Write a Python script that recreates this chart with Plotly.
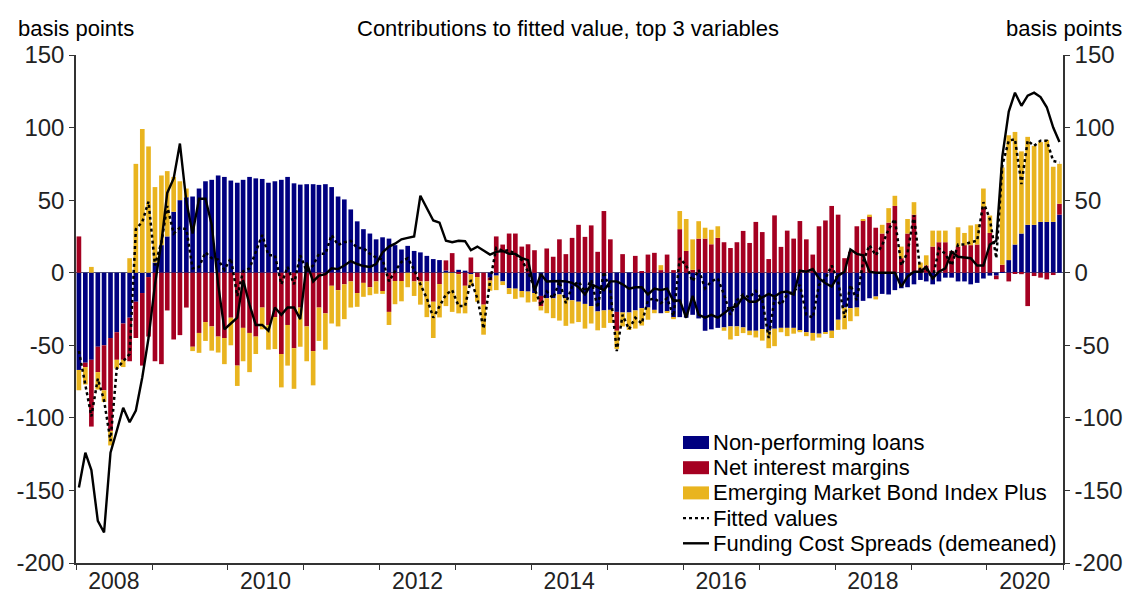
import pandas as pd
import plotly.graph_objects as go

# monthly observations, Jan 2008 - Dec 2020
start_month = "2008-01-01"
n_months = 156

npl = [
    -67, -62, -60, -51, -50, -45, -41, -35, -31, -20, -14, -3, 7, 19, 25, 42, 50, 52, 52.5, 58,
    63, 64, 67, 66, 63.5, 62, 64, 66, 65, 64.6, 62, 63, 64, 66, 61.6, 60.7, 61, 61, 60.5, 61,
    59, 52.5, 50.5, 43.6, 35.4, 30, 27, 23, 24.4, 23.5, 19, 16, 18.5, 15, 14, 11.6, 9.4, 8.7, 1.5, 0.5,
    2, 1.4, -1, 0, 0, -3.4, -2, -6, -10.7, -11, -12.6, -13, -14, -16, -17.6, -17.6, -15, -17.6, -19, -20,
    -21.5, -23, -26.7, -26, -25.6, -27, -27.4, -27.4, -26, -24.4, -24, -25.6, -27.9, -26.7, -31, -30.6, -31, -29, -31.5, -40,
    -39, -38, -37.7, -37, -37, -37.7, -40, -40, -38.8, -40, -38.6, -38, -38, -38, -40, -41, -41.5, -42, -41, -40,
    -32.4, -24, -24.4, -24, -19.4, -17.6, -16.4, -14.6, -15, -12, -10.7, -10, -8, -5, -6, -8, -6, -3.4, -3.4, -6,
    -6, -8, -7, -4, -2, -2, 0.5, 8.7, 19.4, 27, 33, 33, 35, 35, 35, 40,
]

nim = [
    25, -3, -46, -17.5, -31, -64, -19, -25, -30, -25, -50, -41, -61, -63, -26, -46, -43, -24, -51, -41.5,
    -34, -37, -44, -45, -31, -64, -38, -41.5, -44, -24, -36, -30.6, -56, -36, -52, -24, -37, -54, -24, -28,
    -9, -12, -8, -6, -14, -7, -10, -6, -12.6, -27, -5.7, -5.7, 0, -6, -6, -6, -20, -7.8, 7, 13,
    -1, -9, 10.5, -3, -22, -2, 25, 19.4, 27, 27, 18, 19.6, 15.5, -7, 16.7, 11, 23, 12.8, 24, 33,
    24.7, 32.6, 14.4, 42.5, 23, -13, 12.8, 0, 11.6, 0.7, 12.5, 13.7, 1.8, 12.5, 1.8, 30, 15, 2, 23.5, 23.5,
    19.6, 24, 21, 17, 21, 28.8, 20.5, 35, 28, 9.4, 39.5, 17.8, 29, 23.5, 35.6, 23, 12.5, 32, 36, 46,
    40, 10, 14.4, 32, 36, 39, 31, 27, 34.5, 46, 10, 27, 40, 3, 5, 18, 21, 21, 15, 18,
    19, 19, 19.4, 45, 27.4, -2.5, 5, -6, -0.5, -1, -23, -2.3, -3.4, -4.6, -1.6, 7.5,
]

embi = [
    -14, -12, 4, -12, -8, -10, -6, -5, 10, 75, 99, 87, 52, 48, 45, 24, 13, 6, -3, -13.7,
    -13, -16.7, -11, -18, -19, -14, -23, -27, -12, -15, -17, -22, -23, -28, -28, -27, -24, -23.6, -23, -25,
    -26, -25, -24, -18, -9.5, -9.6, -5.5, -8.5, -2, -9, -16, -14, -10, -10, -16, -24.6, -25, -23, -23, -27,
    -27, -19, -8, -17, -20.7, -7, -10, -2.5, -4, -7, -4.4, -7.5, -6, -3, -10.3, -13.7, -18, -19, -16, -14,
    -17, -12, -13, -12, -9, -12.5, -9.6, -12, -12.5, -12, -8.4, -2.3, 3.4, -0.5, -1, 12.5, 22, 21, 12, 7.5,
    10, 8, -2.3, -9, -6.6, -3.9, -3, -4.6, -8, -12, -12, -3, -5.7, -4, -1, -2.7, -5.3, -2.7, -1, -5,
    -7, -15, -9, -6, 1, 1, -2, 6, 10, 7, 8, 10, 8.6, 4, 7, 11, 8, 8, 0, 13.3,
    8.4, 13.6, 14, 13, 12, 0, 67, 86, 77.6, 56.6, 60.6, 54.4, 55, 56.5, 38, 27.5,
]

fitted = [
    -54, -77, -99, -73, -88, -116, -66, -61, -56, 30, 35, 49, 5, 21, 46, 27, 31, 30, 3, 4,
    14, 10, 9, 2, 10, -16, 1, 3, 14, 26, 12, 12, -8, 4, -8, 12, 1, 5, 13, 13,
    26, 19, 21, 22, 17, 17, 13, 10.5, 9, -6, 1, 7.5, 10, 2, -8, -17.6, -31, -23, -15, -12,
    -23, -23, -5, -17.6, -38.6, -6, 17, 15, 15.5, 13, 8.7, 0.7, -10.7, -22.6, -13, -17.6, -6, -21, -9.6, -6,
    -13, -5, -24, 0.7, -13, -54, -29, -39, -31, -35, -19, -17.6, -21, -17.6, -30, 10, 5, -6, 2, -10.7,
    -6, -4, -15, -29, -19, -15, -17, -12.5, -19, -45, -17.6, -22, -15, -13, -8.4, -29, -31, -8.4, -4, 5,
    -6, -31, -8.4, -19, 7.5, 19, 12, 19, 30, 37, 5, 14, 39.5, 0, 3, -4, 16.7, 13, 5, 19.4,
    19.4, 21, 22, 48.6, 37, 10, 74, 91, 92, 61, 91, 87.4, 91, 91, 77, 76,
]

funding = [
    -148, -124, -136, -171, -179, -124, -109, -93, -103, -95, -72, -45, -8, 21, 55, 65, 89, 49, 27, 51,
    51, 33, -8, -39, -35, -31, -5, -22, -36, -36, -40, -24, -29, -24, -24, -32, 7, -6, -2, -1,
    3, 2.5, 5, 8, 6, 4.6, 4, 6, 14, 18, 20, 23, 24, 25, 53, 44, 36, 34.5, 22, 21,
    22, 21.7, 15.5, 18, 15.5, 12.5, 14.4, 15, 13, 13, 10, 8.7, -12.5, -1, -6, -5.7, -5.7, -6, -7, -10,
    -15, -8, -10, -12, -6, -6, -8, -11, -10, -10, -15, -11, -12, -11, -19.6, -19, -31, -16, -29, -31,
    -29, -31, -28, -24.4, -23, -16.4, -20, -20, -17, -14.6, -16.4, -13.5, -13, -15, 1.4, 0.7, 2.5, -4, -7.3, -9.6,
    -2, 0.7, 16, 13, 12, 0.7, 0, 0, 0, 0, -9.6, -2.7, 0.7, 0.7, 4, -4, 0.7, 3, 14.4, 11,
    10.5, 10, 5, 5, 19.4, 22, 80, 111, 124, 115, 122, 124, 121, 114, 100, 90,
]

year_labels = ["2008", "2010", "2012", "2014", "2016", "2018", "2020"]
y_ticks = [150, 100, 50, 0, -50, -100, -150, -200]

months = pd.date_range(start_month, periods=n_months, freq="MS") + pd.Timedelta(days=14)
year_starts = pd.date_range("2008-01-01", "2021-01-01", freq="YS")
label_pos = [pd.Timestamp(y + "-07-01") for y in year_labels]

BLUE = "#000080"
RED = "#A50021"
YELLOW = "#E9B41F"
FONT = "Liberation Sans, Arial, sans-serif"

# plot area in pixels, used to place the hand-drawn legend
L, R, T, B = 76, 1063, 55, 563


def px(x):
    return (x - L) / (R - L)


def py(y):
    return (B - y) / (B - T)


fig = go.Figure()
fig.add_trace(go.Bar(x=months, y=npl, name="Non-performing loans", marker_color=BLUE,
                     marker_line_width=0))
fig.add_trace(go.Bar(x=months, y=nim, name="Net interest margins", marker_color=RED,
                     marker_line_width=0))
fig.add_trace(go.Bar(x=months, y=embi, name="Emerging Market Bond Index Plus", marker_color=YELLOW,
                     marker_line_width=0))
fig.add_trace(go.Scatter(x=months, y=fitted, mode="lines", name="Fitted values",
                         line=dict(color="black", width=2.5, dash="dot")))
fig.add_trace(go.Scatter(x=months, y=funding, mode="lines", name="Funding Cost Spreads (demeaned)",
                         line=dict(color="black", width=2.4)))
# invisible copy so the right-hand axis gets drawn
fig.add_trace(go.Scatter(x=months, y=funding, yaxis="y2", mode="lines", showlegend=False,
                         hoverinfo="skip", line=dict(color="rgba(0,0,0,0)")))

yax = dict(range=[-200, 150], tickvals=y_ticks, ticktext=[str(v) for v in y_ticks],
           ticks="outside", ticklen=5, tickcolor="#333", showline=True, linecolor="#333",
           linewidth=1.5, showgrid=False, automargin=False, tickfont=dict(size=24, color="#222"))

fig.update_layout(
    width=1129, height=595,
    margin=dict(l=L, r=1129 - R, t=T, b=595 - B),
    paper_bgcolor="white", plot_bgcolor="white",
    font=dict(family=FONT, color="black"),
    barmode="relative", bargap=0.2,
    xaxis=dict(range=[year_starts[0], year_starts[-1]], tickvals=label_pos, ticktext=year_labels,
               ticks="", showline=True, linecolor="#333", linewidth=1.5, showgrid=False,
               automargin=False, tickfont=dict(size=23, color="#222"), ticklabelstandoff=-3,
               minor=dict(tickvals=list(year_starts), ticks="outside", ticklen=5, tickcolor="#333")),
    yaxis=dict(**yax, zeroline=True, zerolinecolor="#5a5a78", zerolinewidth=1),
    yaxis2=dict(**yax, overlaying="y", side="right", zeroline=False),
    showlegend=False,
)

# legend drawn by hand so its spacing matches the original
legend_rows = [
    ("Non-performing loans", "bar", BLUE),
    ("Net interest margins", "bar", RED),
    ("Emerging Market Bond Index Plus", "bar", YELLOW),
    ("Fitted values", "dot", "black"),
    ("Funding Cost Spreads (demeaned)", "solid", "black"),
]
row0, row_gap = 442.5, 25.2
for k, (label, kind, colour) in enumerate(legend_rows):
    yc = row0 + k * row_gap
    if kind == "bar":
        fig.add_shape(type="rect", xref="paper", yref="paper", x0=px(683), x1=px(709),
                      y0=py(yc + 6.5), y1=py(yc - 6.5), fillcolor=colour, line_width=0)
    else:
        fig.add_shape(type="line", xref="paper", yref="paper", x0=px(683), x1=px(709),
                      y0=py(yc), y1=py(yc),
                      line=dict(color=colour, width=2.4, dash="dot" if kind == "dot" else "solid"))
    fig.add_annotation(text=label, xref="paper", yref="paper", x=px(711), y=py(yc),
                       xanchor="left", yanchor="middle", showarrow=False,
                       font=dict(size=22, color="black"))

fig.add_annotation(text="basis points", xref="paper", yref="paper", x=px(16), y=py(28),
                   xanchor="left", yanchor="middle", showarrow=False, font=dict(size=22))
fig.add_annotation(text="basis points", xref="paper", yref="paper", x=px(1124), y=py(28),
                   xanchor="right", yanchor="middle", showarrow=False, font=dict(size=22))
fig.add_annotation(text="Contributions to fitted value, top 3 variables", xref="paper", yref="paper",
                   x=px(568), y=py(28), xanchor="center", yanchor="middle", showarrow=False,
                   font=dict(size=22))

# the page's default 8px body margin would push the 1129x595 figure off-screen
fig.write_html("out.html", config={"displayModeBar": False},
               post_script="document.body.style.margin = '0';")
